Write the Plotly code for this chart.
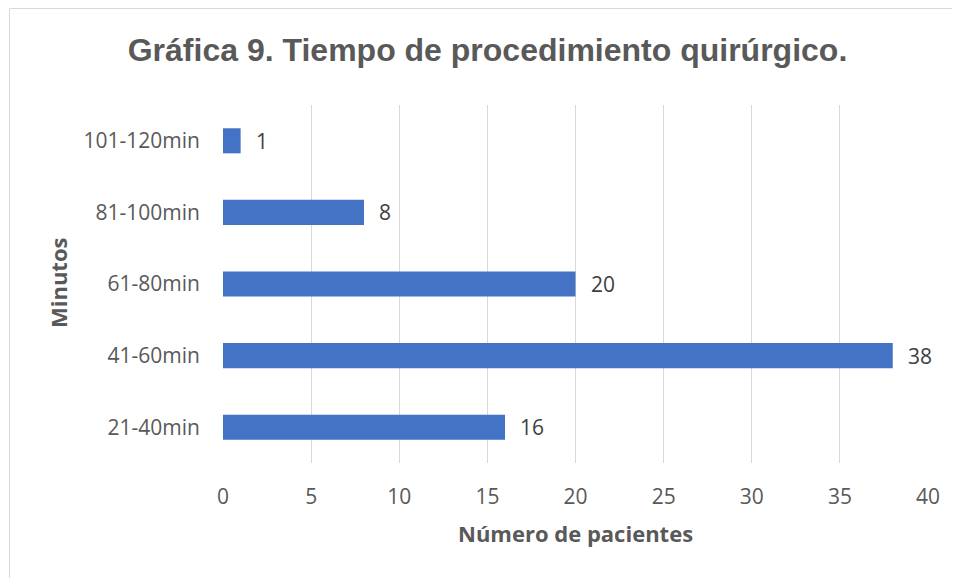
import plotly.graph_objects as go

categories = ["21-40min", "41-60min", "61-80min", "81-100min", "101-120min"]
pacientes = [16, 38, 20, 8, 1]
x_ticks = [0, 5, 10, 15, 20, 25, 30, 35, 40]

title_text = "Gráfica 9. Tiempo de procedimiento quirúrgico."
x_title = "Número de pacientes"
y_title = "Minutos"

W, H = 960, 578
OFF = 8  # page body margin offset
# target screen pixel bounds of plot area
SL, SR, ST, SB = 223, 928, 105, 463
L = SL - OFF
T = ST - OFF
R = W - (SR - OFF)
B = H - (SB - OFF)
pw, ph = W - L - R, H - T - B

def px_to_paper_x(px):
    return (px - OFF - L) / pw

def px_to_paper_y(py):
    return (H - B - (py - OFF)) / ph

fig = go.Figure()
fig.add_trace(go.Bar(
    x=pacientes, y=categories, orientation="h",
    marker=dict(color="#4472C4", line=dict(width=0)),
    width=0.35, hoverinfo="x+y",
))

annotations = []
for v, c in zip(pacientes, categories):
    annotations.append(dict(
        x=v, y=c, xref="x", yref="y", text=str(v), showarrow=False,
        xanchor="left", yanchor="middle", xshift=13,
        font=dict(family="Open Sans", size=21, color="#404040"),
    ))
annotations.append(dict(
    x=px_to_paper_x(575), y=px_to_paper_y(533), xref="paper", yref="paper", text=f"<b>{x_title}</b>",
    showarrow=False, xanchor="center", yanchor="middle",
    font=dict(family="Open Sans", size=22, color="#595959"),
))
annotations.append(dict(
    x=px_to_paper_x(58), y=px_to_paper_y(283), xref="paper", yref="paper", text=f"<b>{y_title}</b>",
    showarrow=False, xanchor="center", yanchor="middle", textangle=-90,
    font=dict(family="Open Sans", size=22, color="#595959"),
))

fig.update_layout(
    width=W, height=H,
    margin=dict(l=L, r=R, t=T, b=B, pad=0),
    paper_bgcolor="white", plot_bgcolor="white",
    showlegend=False,
    title=dict(
        text=f"<b>{title_text}</b>",
        x=(487.5 - OFF) / W, xanchor="center", y=1 - (50 - OFF) / H, yanchor="middle",
        font=dict(family="Liberation Sans", size=32, color="#595959"),
    ),
    xaxis=dict(
        range=[0, 40], tickvals=x_ticks, ticktext=[str(t) for t in x_ticks],
        showgrid=True, gridcolor="#d9d9d9", gridwidth=1,
        zeroline=False, showline=False, ticks="",
        tickfont=dict(family="Open Sans", size=21, color="#595959"),
        ticklabelstandoff=19, fixedrange=True,
    ),
    yaxis=dict(
        range=[-0.5, 4.5], type="category", categoryorder="array", categoryarray=categories,
        showgrid=False, zeroline=False, showline=False, ticks="",
        tickfont=dict(family="Open Sans", size=21, color="#595959"),
        ticklabelstandoff=22, fixedrange=True,
    ),
    annotations=annotations,
    shapes=[dict(
        type="rect", xref="paper", yref="paper",
        x0=px_to_paper_x(9.5), x1=px_to_paper_x(990),
        y0=px_to_paper_y(610), y1=px_to_paper_y(8.5),
        line=dict(color="#d9d9d9", width=1), fillcolor="rgba(0,0,0,0)", layer="below",
    )],
)

fig.write_html("out.html")
